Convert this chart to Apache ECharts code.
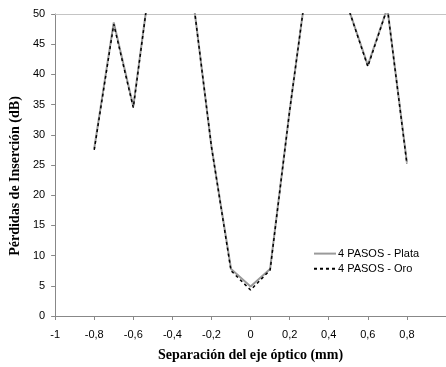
<!DOCTYPE html>
<html>
<head>
<meta charset="utf-8">
<script src="https://cdn.jsdelivr.net/npm/echarts@6/dist/echarts.min.js"></script>
<style>
  html, body {margin: 0; padding: 0; background: #fff;}
  #chart {width: 446px; height: 367px;}
</style>
</head>
<body>
<div id="chart"></div>
<script>
const separacion = [-0.8, -0.7, -0.6, -0.5, -0.4, -0.3, -0.2, -0.1, 0, 0.1, 0.2, 0.3, 0.4, 0.5, 0.6, 0.7, 0.8];
const plata = [27.7, 48.6, 34.7, 59, 60, 54, 28, 7.8, 4.9, 7.8, 34, 58, 58, 51, 41.5, 51, 25.4];
const oro = [27.5, 48.3, 34.5, 59, 60, 54, 28, 7.5, 4.3, 7.6, 34, 58, 58, 51, 41.3, 51, 25.2];
const seriesNames = ['4 PASOS - Plata', '4 PASOS - Oro'];

const toPairs = (ys) => separacion.map((x, i) => [x, ys[i]]);
const comma = (v) => String(Math.round(v * 10) / 10).replace('.', ',');

const chart = echarts.init(document.getElementById('chart'));
chart.setOption({
  animation: false,
  grid: {left: 55, right: -8, top: 14, bottom: 44},
  legend: {
    orient: 'vertical',
    left: 308,
    top: 243,
    itemWidth: 22,
    itemHeight: 14,
    itemGap: 4,
    itemStyle: {opacity: 0},
    textStyle: {fontFamily: 'Liberation Sans', fontSize: 11, color: '#000', padding: [0, 0, 0, -3]},
    data: seriesNames
  },
  xAxis: [{
    type: 'value',
    min: -1, max: 1, interval: 0.2,
    name: 'Separación del eje óptico (mm)',
    nameLocation: 'middle',
    nameGap: 32,
    nameTextStyle: {fontFamily: 'Liberation Serif', fontWeight: 'bold', fontSize: 14, color: '#000'},
    splitLine: {show: false},
    axisLine: {onZero: false, lineStyle: {color: '#888'}},
    axisTick: {length: 4, lineStyle: {color: '#888'}},
    axisLabel: {
      showMaxLabel: false,
      margin: 13,
      fontFamily: 'Liberation Sans', fontSize: 11, color: '#000',
      formatter: comma
    }
  }, {
    type: 'value',
    position: 'top',
    min: -1, max: 1,
    splitLine: {show: false},
    axisLine: {show: true, onZero: false, lineStyle: {color: '#c4c4c4'}},
    axisTick: {show: false},
    axisLabel: {show: false}
  }],
  yAxis: {
    type: 'value',
    min: 0, max: 50, interval: 5,
    name: 'Pérdidas de Inserción (dB)',
    nameLocation: 'middle',
    nameGap: 27,
    nameTextStyle: {fontFamily: 'Liberation Serif', fontWeight: 'bold', fontSize: 14, color: '#000', padding: [0, 22, 0, 0]},
    splitLine: {show: false},
    axisLine: {show: true, onZero: false, lineStyle: {color: '#888'}},
    axisTick: {show: true, length: 4, lineStyle: {color: '#888'}},
    axisLabel: {margin: 10, fontFamily: 'Liberation Sans', fontSize: 11, color: '#000'}
  },
  series: [{
    name: seriesNames[0],
    type: 'line',
    data: toPairs(plata),
    symbol: 'none',
    color: '#9a9a9a',
    lineStyle: {width: 2, color: '#9a9a9a'}
  }, {
    name: seriesNames[1],
    type: 'line',
    data: toPairs(oro),
    symbol: 'none',
    color: '#000',
    lineStyle: {width: 1.5, color: '#000', type: [3, 3]}
  }]
});
</script>
</body>
</html>
